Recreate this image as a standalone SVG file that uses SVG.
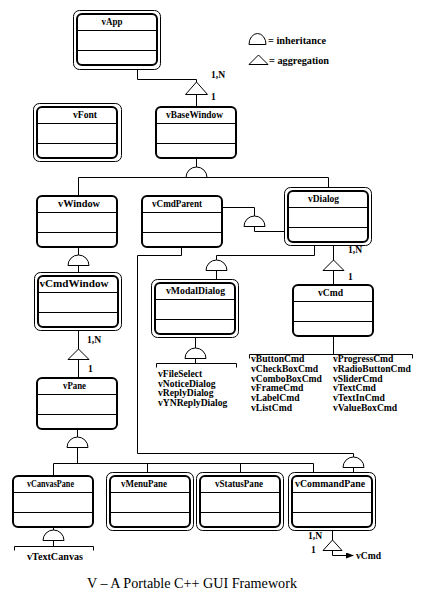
<svg xmlns="http://www.w3.org/2000/svg" width="422" height="600" viewBox="0 0 422 600">
<defs>
<style>
.outer{fill:none;stroke:#000;stroke-width:1}
.inner{fill:#fff;stroke:#000;stroke-width:2}
.sep{stroke:#000;stroke-width:1}
.t{font-family:"Liberation Serif",serif;font-size:9.5px;font-weight:bold;text-anchor:middle;fill:#000}
.l{font-family:"Liberation Serif",serif;font-size:9.6px;font-weight:bold;fill:#000}
.c{fill:none;stroke:#000;stroke-width:1}
.sym{fill:#fff;stroke:#000;stroke-width:1}
.title{font-family:"Liberation Serif",serif;font-size:14px;fill:#000}
</style>
<marker id="arr" markerWidth="8" markerHeight="6" refX="7" refY="3" orient="auto" markerUnits="userSpaceOnUse">
<path d="M0,0 L8,3 L0,6 Z" fill="#000"/>
</marker>
</defs>
<rect width="422" height="600" fill="#fff"/>

<g id="connectors">
<path class="c" d="M137.5,69.5 V79.5 H196.5 V82"/>
<path class="sym" d="M196.5,82 L185.5,94.5 L207.5,94.5 Z"/>
<path class="c" d="M196.5,94.5 V107"/>
<path class="c" d="M196.5,158 V167"/>
<path class="c" d="M78.5,196 V177.5 H328.5 V187.5"/>
<path class="sym" d="M186,177.5 A10.5,10.5 0 0 1 207,177.5 Z"/>
<path class="c" d="M78.5,247 V255"/>
<path class="sym" d="M68,265.5 A10.5,10.5 0 0 1 89,265.5 Z"/>
<path class="c" d="M78.5,265.5 V272.5"/>
<path class="c" d="M222,207.5 H254.5 V216"/>
<path class="sym" d="M244,226.5 A10.5,10.5 0 0 1 265,226.5 Z"/>
<path class="c" d="M254.5,226.5 V231.5 H284.5"/>
<path class="c" d="M314.5,245.5 V255.5 H216.5 V260"/>
<path class="sym" d="M206,270.5 A10.5,10.5 0 0 1 227,270.5 Z"/>
<path class="c" d="M216.5,270.5 V279.5"/>
<path class="c" d="M181.5,247 V255.5 H137.5 V453.5 H353.5 V457"/>
<path class="sym" d="M343,467.5 A10.5,10.5 0 0 1 364,467.5 Z"/>
<path class="c" d="M353.5,467.5 V472.5"/>
<path class="c" d="M333.5,245.5 V260"/>
<path class="sym" d="M333.5,260 L323,270.5 L344,270.5 Z"/>
<path class="c" d="M333.5,270.5 V285"/>
<path class="c" d="M78.5,330.5 V349"/>
<path class="sym" d="M78.5,349 L68,359.5 L89,359.5 Z"/>
<path class="c" d="M78.5,359.5 V378"/>
<path class="c" d="M77.5,429 V437"/>
<path class="sym" d="M67,447.5 A10.5,10.5 0 0 1 88,447.5 Z"/>
<path class="c" d="M77.5,447.5 V463.5"/>
<path class="c" d="M53.5,476 V463.5 H313.5 V472.5 M147.5,463.5 V472.5 M240.5,463.5 V472.5"/>
<path class="c" d="M195.5,337.5 V348"/>
<path class="sym" d="M185,358.5 A10.5,10.5 0 0 1 206,358.5 Z"/>
<path class="c" d="M195.5,358.5 V363.5 M156.5,367.5 V363.5 H236.5 V367.5"/>
<path class="c" d="M333.5,336 V354.5 M249.5,358.5 V354.5 H412.5 V358.5"/>
<path class="c" d="M53.5,527 V530"/>
<path class="sym" d="M43,540.5 A10.5,10.5 0 0 1 64,540.5 Z"/>
<path class="c" d="M53.5,540.5 V546.5 M14.5,550.5 V546.5 H93.5 V550.5"/>
<path class="c" d="M332.5,530.5 V540"/>
<path class="sym" d="M332.5,540 L323,550.5 L342,550.5 Z"/>
<path class="c" d="M332.5,550.5 V555.5 H353" marker-end="url(#arr)"/>
<text class="l" x="211" y="78">1,N</text>
<text class="l" x="211" y="100">1</text>
<text class="l" x="348" y="253">1,N</text>
<text class="l" x="348" y="280">1</text>
<text class="l" x="87" y="343">1,N</text>
<text class="l" x="88" y="372">1</text>
<text class="l" x="308" y="539">1,N</text>
<text class="l" x="311" y="553">1</text>
<text class="l" x="356" y="559">vCmd</text>
</g>

<g id="legend">
<path class="sym" d="M249,44.5 A8.5,11 0 0 1 266,44.5 Z"/>
<text class="l" x="268" y="44" textLength="58" lengthAdjust="spacingAndGlyphs">= inheritance</text>
<path class="sym" d="M258.5,55 L249,64.5 L268,64.5 Z"/>
<text class="l" x="269" y="64" textLength="60" lengthAdjust="spacingAndGlyphs">= aggregation</text>
</g>

<g id="vApp">
<rect class="outer" x="73.5" y="10.5" width="87" height="59" rx="6"/>
<rect class="inner" x="77" y="14" width="80" height="51" rx="5"/>
<path class="sep" d="M77,30.5 H157 M77,50.5 H157"/>
<text class="t" x="112" y="25" textLength="21" lengthAdjust="spacingAndGlyphs">vApp</text>
</g>

<g id="vFont">
<rect class="outer" x="33.5" y="103.5" width="88" height="58" rx="6"/>
<rect class="inner" x="37" y="107" width="80" height="51" rx="5"/>
<path class="sep" d="M37,123.5 H117 M37,143.5 H117"/>
<text class="t" x="85" y="118" textLength="24" lengthAdjust="spacingAndGlyphs">vFont</text>
</g>

<g id="vBaseWindow">
<rect class="inner" x="156" y="107" width="80" height="51" rx="5"/>
<path class="sep" d="M156,123.5 H236 M156,143.5 H236"/>
<text class="t" x="194.5" y="118" textLength="57" lengthAdjust="spacingAndGlyphs">vBaseWindow</text>
</g>

<g id="vWindow">
<rect class="inner" x="37" y="196" width="80" height="51" rx="5"/>
<path class="sep" d="M37,212.5 H117 M37,232.5 H117"/>
<text class="t" x="79" y="207" textLength="42" lengthAdjust="spacingAndGlyphs">vWindow</text>
</g>

<g id="vCmdParent">
<rect class="inner" x="142" y="196" width="80" height="51" rx="5"/>
<path class="sep" d="M142,212.5 H222 M142,232.5 H222"/>
<text class="t" x="177" y="207" textLength="50" lengthAdjust="spacingAndGlyphs">vCmdParent</text>
</g>

<g id="vDialog">
<rect class="outer" x="284.5" y="187.5" width="87" height="58" rx="6"/>
<rect class="inner" x="288" y="191" width="80" height="51" rx="5"/>
<path class="sep" d="M288,207.5 H368 M288,227.5 H368"/>
<text class="t" x="323.5" y="202" textLength="31" lengthAdjust="spacingAndGlyphs">vDialog</text>
</g>

<g id="vCmdWindow">
<rect class="outer" x="34.5" y="272.5" width="87" height="58" rx="6"/>
<rect class="inner" x="38" y="276" width="80" height="51" rx="5"/>
<path class="sep" d="M38,292.5 H118 M38,312.5 H118"/>
<text class="t" x="74" y="287" textLength="69" lengthAdjust="spacingAndGlyphs">vCmdWindow</text>
</g>

<g id="vModalDialog">
<rect class="outer" x="151.5" y="279.5" width="87" height="58" rx="6"/>
<rect class="inner" x="155" y="283" width="80" height="51" rx="5"/>
<path class="sep" d="M155,299.5 H235 M155,319.5 H235"/>
<text class="t" x="195.5" y="294" textLength="59" lengthAdjust="spacingAndGlyphs">vModalDialog</text>
</g>
<g id="vModalDialog-list">
<text class="l" x="158" y="377">vFileSelect</text>
<text class="l" x="158" y="386.5">vNoticeDialog</text>
<text class="l" x="158" y="396">vReplyDialog</text>
<text class="l" x="158" y="405.5">vYNReplyDialog</text>
</g>

<g id="vCmd">
<rect class="inner" x="293" y="285" width="80" height="51" rx="5"/>
<path class="sep" d="M293,301.5 H373 M293,321.5 H373"/>
<text class="t" x="330.5" y="296" textLength="25" lengthAdjust="spacingAndGlyphs">vCmd</text>
</g>
<g id="vCmd-list">
<text class="l" x="251" y="362">vButtonCmd</text>
<text class="l" x="251" y="371.8">vCheckBoxCmd</text>
<text class="l" x="251" y="381.6">vComboBoxCmd</text>
<text class="l" x="251" y="391.4">vFrameCmd</text>
<text class="l" x="251" y="401.2">vLabelCmd</text>
<text class="l" x="251" y="411">vListCmd</text>
<text class="l" x="333" y="362">vProgressCmd</text>
<text class="l" x="333" y="371.8">vRadioButtonCmd</text>
<text class="l" x="333" y="381.6">vSliderCmd</text>
<text class="l" x="333" y="391.4">vTextCmd</text>
<text class="l" x="333" y="401.2">vTextInCmd</text>
<text class="l" x="333" y="411">vValueBoxCmd</text>
</g>

<g id="vPane">
<rect class="inner" x="37" y="378" width="80" height="51" rx="5"/>
<path class="sep" d="M37,394.5 H117 M37,414.5 H117"/>
<text class="t" x="74.5" y="389" textLength="23" lengthAdjust="spacingAndGlyphs">vPane</text>
</g>

<g id="vCanvasPane">
<rect class="inner" x="13" y="476" width="80" height="51" rx="5"/>
<path class="sep" d="M13,492.5 H93 M13,512.5 H93"/>
<text class="t" x="50.5" y="487" textLength="47" lengthAdjust="spacingAndGlyphs">vCanvasPane</text>
</g>
<g id="vTextCanvas">
<text class="t" x="55" y="560" textLength="56" lengthAdjust="spacingAndGlyphs">vTextCanvas</text>
</g>

<g id="vMenuPane">
<rect class="outer" x="106.5" y="472.5" width="87" height="58" rx="6"/>
<rect class="inner" x="110" y="476" width="80" height="51" rx="5"/>
<path class="sep" d="M110,492.5 H190 M110,512.5 H190"/>
<text class="t" x="144" y="487" textLength="46" lengthAdjust="spacingAndGlyphs">vMenuPane</text>
</g>

<g id="vStatusPane">
<rect class="outer" x="196.5" y="472.5" width="87" height="58" rx="6"/>
<rect class="inner" x="200" y="476" width="80" height="51" rx="5"/>
<path class="sep" d="M200,492.5 H280 M200,512.5 H280"/>
<text class="t" x="239" y="487" textLength="48" lengthAdjust="spacingAndGlyphs">vStatusPane</text>
</g>

<g id="vCommandPane">
<rect class="outer" x="288.5" y="472.5" width="87" height="58" rx="6"/>
<rect class="inner" x="292" y="476" width="80" height="51" rx="5"/>
<path class="sep" d="M292,492.5 H372 M292,512.5 H372"/>
<text class="t" x="330" y="487" textLength="70" lengthAdjust="spacingAndGlyphs">vCommandPane</text>
</g>

<text class="title" x="87" y="588" textLength="210" lengthAdjust="spacingAndGlyphs">V – A Portable C++ GUI Framework</text>
</svg>
